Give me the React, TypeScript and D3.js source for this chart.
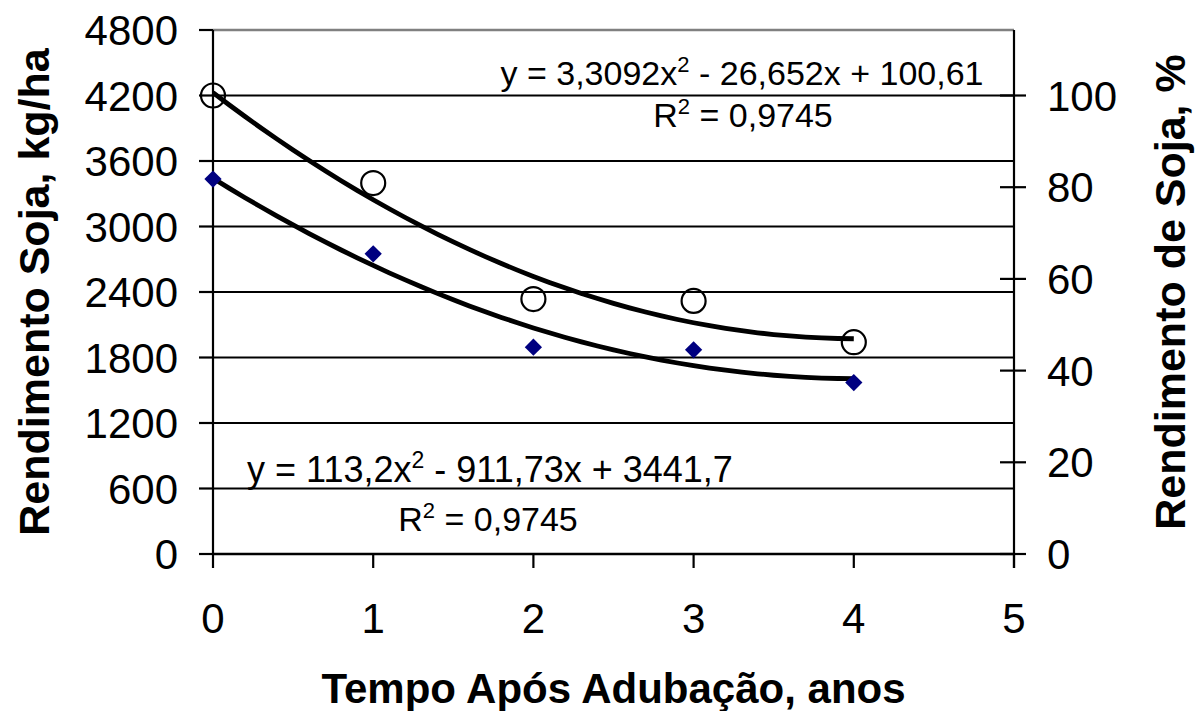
import React from "react";
import * as d3 from "d3";

const years = [0, 1, 2, 3, 4];
const yieldKg = [3435, 2750, 1895, 1870, 1570];
const yieldPct = [100, 80.9, 55.6, 55.2, 46.2];
// trendline coefficients (c0, c1, c2) as printed on the chart
const kgFit = [3441.7, -911.73, 113.2];
const pctFit = [100.61, -26.652, 3.3092];
const xTicks = [0, 1, 2, 3, 4, 5];
const yLeftTicks = [0, 600, 1200, 1800, 2400, 3000, 3600, 4200, 4800];
const yRightTicks = [0, 20, 40, 60, 80, 100];

const W = 1201;
const H = 711;
const L = 213, R = 1014, T = 30, B = 554;
const FONT = "'Liberation Sans', Arial, sans-serif";

export default function App() {
  const x = d3.scaleLinear().domain([0, 5]).range([L, R]);
  const yL = d3.scaleLinear().domain([0, 4800]).range([B, T]);
  const yR = d3.scaleLinear().domain([0, 4800 / 42]).range([B, T]);

  const samples = d3.range(0, 4.0001, 0.1);
  const poly = (c: number[], v: number) => c[0] + c[1] * v + c[2] * v * v;
  const kgLine = d3.line<number>().x((d) => x(d)).y((d) => yL(poly(kgFit, d)));
  const pctLine = d3.line<number>().x((d) => x(d)).y((d) => yR(poly(pctFit, d)));

  const diamond = d3.symbol().type(d3.symbolDiamond2).size(190)();

  return (
    <svg
      width={W}
      height={H}
      style={{ position: "absolute", left: 0, top: 0, background: "#fff" }}
      fontFamily={FONT}
    >
      <rect x={0} y={0} width={W} height={H} fill="#fff" />
      {/* gridlines */}
      {yLeftTicks.filter((t) => t > 0 && t < 4800).map((t) => (
        <line key={"g" + t} x1={L} x2={R} y1={yL(t)} y2={yL(t)} stroke="#000" strokeWidth={2.2} />
      ))}
      <line x1={L} x2={R} y1={T} y2={T} stroke="#808080" strokeWidth={2.5} />

      {/* trend lines */}
      <path d={pctLine(samples) || ""} fill="none" stroke="#000" strokeWidth={4.8} strokeLinejoin="round" />
      <path d={kgLine(samples) || ""} fill="none" stroke="#000" strokeWidth={4.8} strokeLinejoin="round" />

      {/* axes */}
      <line x1={L} x2={L} y1={T} y2={B} stroke="#000" strokeWidth={2.2} />
      <line x1={R} x2={R} y1={T} y2={B + 14} stroke="#000" strokeWidth={2.2} />
      <line x1={L} x2={R} y1={B} y2={B} stroke="#000" strokeWidth={2.5} />
      {yLeftTicks.map((t) => (
        <g key={"yl" + t}>
          <line x1={L - 14} x2={L} y1={yL(t)} y2={yL(t)} stroke="#000" strokeWidth={2.2} />
          <text x={178} y={yL(t) + 15} fontSize={42} textAnchor="end" fill="#000">
            {t}
          </text>
        </g>
      ))}
      {yRightTicks.map((t) => (
        <g key={"yr" + t}>
          <line x1={R - 14} x2={R + 12} y1={yR(t)} y2={yR(t)} stroke="#000" strokeWidth={2.2} />
          <text x={1047} y={yR(t) + 15} fontSize={42} textAnchor="start" fill="#000">
            {t}
          </text>
        </g>
      ))}
      {xTicks.map((t) => (
        <g key={"x" + t}>
          <line x1={x(t)} x2={x(t)} y1={B} y2={B + 14} stroke="#000" strokeWidth={2.2} />
          <text x={x(t)} y={633} fontSize={42} textAnchor="middle" fill="#000">
            {t}
          </text>
        </g>
      ))}

      {/* markers */}
      {years.map((yr, i) => (
        <circle key={"c" + i} cx={x(yr)} cy={yR(yieldPct[i])} r={12} fill="none" stroke="#000" strokeWidth={2.2} />
      ))}
      {years.map((yr, i) => (
        <path key={"d" + i} d={diamond || ""} transform={`translate(${x(yr)},${yL(yieldKg[i])})`} fill="#000080" />
      ))}

      {/* equations */}
      <text x={742} y={85} fontSize={34} textAnchor="middle" fill="#000">
        y = 3,3092x<tspan dy={-13} fontSize={22}>2</tspan>
        <tspan dy={13}> - 26,652x + 100,61</tspan>
      </text>
      <text x={743} y={127} fontSize={34} textAnchor="middle" fill="#000">
        R<tspan dy={-13} fontSize={22}>2</tspan>
        <tspan dy={13}> = 0,9745</tspan>
      </text>
      <text x={490} y={482} fontSize={36} textAnchor="middle" fill="#000">
        y = 113,2x<tspan dy={-14} fontSize={23}>2</tspan>
        <tspan dy={14}> - 911,73x + 3441,7</tspan>
      </text>
      <text x={488} y={531} fontSize={34} textAnchor="middle" fill="#000">
        R<tspan dy={-13} fontSize={22}>2</tspan>
        <tspan dy={13}> = 0,9745</tspan>
      </text>

      {/* axis titles */}
      <text x={(L + R) / 2} y={703} fontSize={42} fontWeight="bold" textAnchor="middle" fill="#000">
        Tempo Após Adubação, anos
      </text>
      <text
        transform={`translate(49,${(T + B) / 2}) rotate(-90)`}
        fontSize={43}
        fontWeight="bold"
        textAnchor="middle"
        fill="#000"
      >
        Rendimento Soja, kg/ha
      </text>
      <text
        transform={`translate(1185,${(T + B) / 2}) rotate(-90)`}
        fontSize={43}
        fontWeight="bold"
        textAnchor="middle"
        fill="#000"
      >
        Rendimento de Soja, %
      </text>
    </svg>
  );
}
